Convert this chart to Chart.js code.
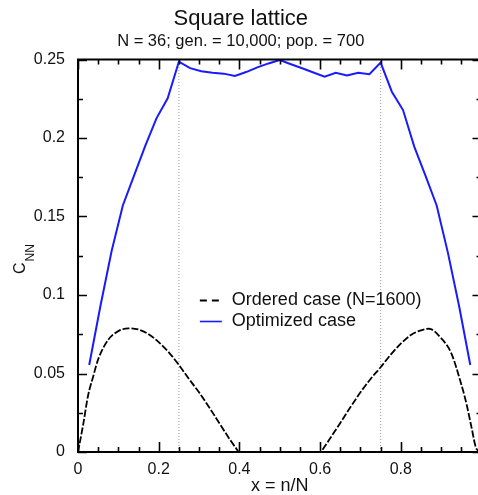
<!DOCTYPE html>
<html>
<head>
<meta charset="utf-8">
<script src="https://cdn.jsdelivr.net/npm/chart.js@4"></script>
<style>
  html, body { margin: 0; padding: 0; background: #fff; overflow: hidden; }
  canvas { display: block; }
</style>
</head>
<body>
<canvas id="chart" width="484" height="495"></canvas>
<script>
// optimized case: N = 36 sites, x = n/N
const latticeN = 36;
const optimizedN = [1, 2, 3, 4, 5, 6, 7, 8, 9, 10, 11, 12, 13, 14, 15, 16, 17, 18,
  19, 20, 21, 22, 23, 24, 25, 26, 27, 28, 29, 30, 31, 32, 33, 34, 35];
const optimizedC = [0.0554, 0.093, 0.128, 0.157, 0.176, 0.195, 0.2125, 0.2253, 0.2486,
  0.2445, 0.2425, 0.2416, 0.241, 0.2395, 0.242, 0.245, 0.2475, 0.2497,
  0.247, 0.2444, 0.2417, 0.2391, 0.2416, 0.2399, 0.2416, 0.2406, 0.248,
  0.2295, 0.2178, 0.1945, 0.176, 0.157, 0.127, 0.093, 0.0554];

// ordered case (N=1600)
const orderedX = [0, 0.0125, 0.025, 0.0375, 0.05, 0.075, 0.1, 0.125, 0.15, 0.175, 0.2,
  0.225, 0.25, 0.275, 0.3, 0.325, 0.35, 0.375, 0.39, 0.4, 0.45, 0.5, 0.55, 0.6,
  0.61, 0.625, 0.65, 0.675, 0.7, 0.725, 0.75, 0.775, 0.8, 0.825, 0.85, 0.87,
  0.9, 0.925, 0.95, 0.9625, 0.975, 0.9875, 1];
const orderedC = [0, 0.017, 0.036, 0.048, 0.059, 0.0715, 0.077, 0.0788, 0.078, 0.075, 0.07,
  0.0635, 0.0555, 0.0465, 0.038, 0.0285, 0.0185, 0.0085, 0.003, 0, 0, 0, 0, 0,
  0.003, 0.0088, 0.0185, 0.0285, 0.038, 0.0465, 0.054, 0.062, 0.069, 0.0745, 0.0775, 0.0785,
  0.0725, 0.063, 0.043, 0.031, 0.016, 0.002, 0];

// dotted guides
const guideX = [0.25, 0.75];
const yRange = [0, 0.25];

const xTickStep = 0.2;
const yTickStep = 0.05;

const FONT = "'Liberation Sans', Arial, Helvetica, sans-serif";

function pts(xs, ys) {
  return xs.map((x, i) => ({ x: x, y: ys[i] }));
}

function fmt(v) {
  return String(Math.round(v * 1000) / 1000);
}

// inward ticks on all sides + frame
const frameTicks = {
  id: 'frameTicks',
  afterDatasetsDraw(chart) {
    const { ctx, chartArea: a, scales } = chart;
    const sx = scales.x, sy = scales.y;
    ctx.save();
    ctx.strokeStyle = '#000';
    ctx.lineWidth = 1.6;
    ctx.beginPath();
    for (let i = 0; i <= 20; i++) {
      const px = Math.round(sx.getPixelForValue(i * 0.05)) + 0.5;
      const len = i % 4 === 0 ? 10 : 5;
      ctx.moveTo(px, a.bottom); ctx.lineTo(px, a.bottom - len);
      ctx.moveTo(px, a.top); ctx.lineTo(px, a.top + len);
    }
    for (let i = 0; i <= 10; i++) {
      const py = Math.round(sy.getPixelForValue(i * 0.025)) + 0.5;
      const len = i % 2 === 0 ? 9 : 5;
      ctx.moveTo(a.left, py); ctx.lineTo(a.left + len, py);
      ctx.moveTo(a.right, py); ctx.lineTo(a.right - len, py);
    }
    ctx.stroke();
    ctx.lineWidth = 2;
    ctx.strokeRect(a.left, a.top, a.right - a.left, a.bottom - a.top);
    ctx.restore();
  }
};

// legend inside the plot + y title with subscript
const extras = {
  id: 'extras',
  afterDraw(chart) {
    const { ctx, scales } = chart;
    const ds = chart.data.datasets;
    const lx = scales.x.getPixelForValue(0.302);
    const ly = scales.y.getPixelForValue(0.097);
    ctx.save();
    ctx.font = '18px ' + FONT;
    ctx.textBaseline = 'middle';
    ctx.fillStyle = '#111';
    [0, 1].forEach((k, row) => {
      const y = Math.round(ly + row * 21) + 0.5;
      ctx.strokeStyle = ds[k].borderColor;
      ctx.lineWidth = k === 0 ? 2 : 1.6;
      ctx.setLineDash(k === 0 ? [7, 5] : []);
      ctx.beginPath();
      ctx.moveTo(lx, y); ctx.lineTo(lx + 22, y);
      ctx.stroke();
      ctx.fillText(ds[k].label, lx + 32, y);
    });
    ctx.setLineDash([]);

    // C_NN
    ctx.translate(21, 274);
    ctx.rotate(-Math.PI / 2);
    ctx.textAlign = 'left';
    ctx.font = '16px ' + FONT;
    ctx.fillText('C', 0, 0);
    const w = ctx.measureText('C').width;
    ctx.font = '12px ' + FONT;
    ctx.fillText('NN', w + 1, 10);
    ctx.restore();
  }
};

const datasets = [
  {
    label: 'Ordered case (N=1600)',
    data: pts(orderedX, orderedC),
    borderColor: '#000',
    borderWidth: 1.8,
    borderDash: [7, 2],
    cubicInterpolationMode: 'monotone',
    pointRadius: 0,
    showLine: true
  },
  {
    label: 'Optimized case',
    data: optimizedN.map((n, i) => ({ x: n / latticeN, y: optimizedC[i] })),
    borderColor: '#1a1aff',
    borderWidth: 2,
    tension: 0,
    pointRadius: 0,
    showLine: true
  }
];
guideX.forEach(g => {
  datasets.push({
    label: '',
    data: pts([g, g], yRange),
    borderColor: '#999',
    borderWidth: 1,
    borderDash: [1, 2],
    pointRadius: 0,
    showLine: true
  });
});

new Chart(document.getElementById('chart'), {
  type: 'scatter',
  data: { datasets: datasets },
  options: {
    responsive: false,
    animation: false,
    layout: { padding: { left: 0, right: 2.5, top: 0, bottom: 0 } },
    plugins: {
      legend: { display: false },
      tooltip: { enabled: false },
      title: {
        display: true,
        text: 'Square lattice',
        color: '#111',
        font: { family: FONT, size: 22, weight: 'normal', lineHeight: 1 },
        padding: { top: 8, bottom: 0 }
      },
      subtitle: {
        display: true,
        text: 'N = 36; gen. = 10,000; pop. = 700',
        color: '#111',
        font: { family: FONT, size: 16.5, lineHeight: 1 },
        padding: { top: 3, bottom: 10 }
      }
    },
    scales: {
      x: {
        type: 'linear',
        min: 0,
        max: 1,
        grid: { display: false },
        border: { display: false },
        afterFit(scale) { scale.height = 43; },
        ticks: {
          stepSize: xTickStep,
          padding: 0,
          color: '#111',
          font: { family: FONT, size: 16 },
          maxRotation: 0,
          callback: v => (v >= 1 ? '' : fmt(v))
        },
        title: {
          display: true,
          text: 'x = n/N',
          color: '#111',
          font: { family: FONT, size: 18, lineHeight: 1 },
          padding: { top: 0, bottom: 0 }
        }
      },
      y: {
        min: yRange[0],
        max: yRange[1],
        grid: { display: false },
        border: { display: false },
        afterFit(scale) { scale.width = 78; },
        ticks: {
          stepSize: yTickStep,
          padding: 5,
          color: '#111',
          font: { family: FONT, size: 16 },
          callback: v => fmt(v)
        }
      }
    }
  },
  plugins: [frameTicks, extras]
});
</script>
</body>
</html>
